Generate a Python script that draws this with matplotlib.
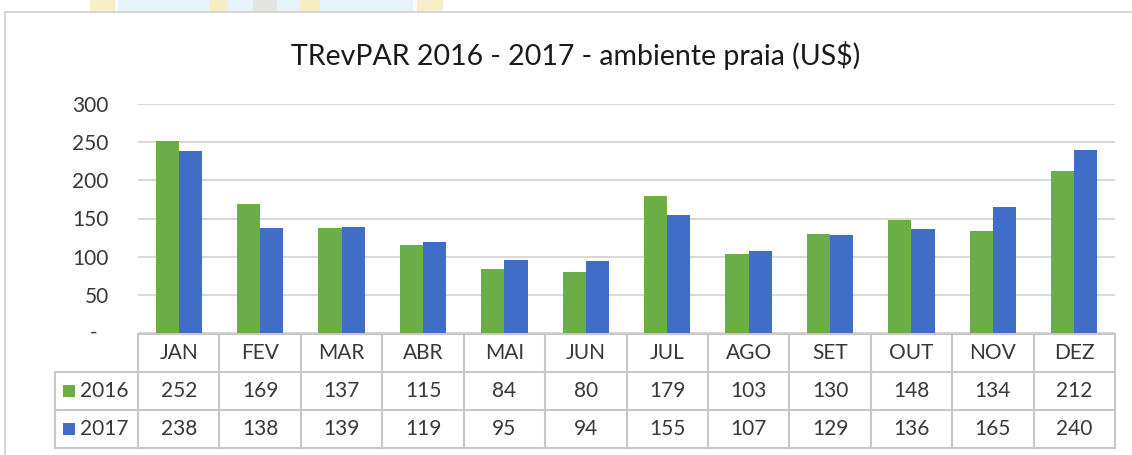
import matplotlib
matplotlib.use("Agg")
import matplotlib.pyplot as plt
from matplotlib.patches import Rectangle
from matplotlib.transforms import blended_transform_factory
import numpy as np

months = ["JAN", "FEV", "MAR", "ABR", "MAI", "JUN", "JUL", "AGO", "SET", "OUT", "NOV", "DEZ"]
series_names = ["2016", "2017"]
v2016 = [252, 169, 137, 115, 84, 80, 179, 103, 130, 148, 134, 212]
v2017 = [238, 138, 139, 119, 95, 94, 155, 107, 129, 136, 165, 240]
yticks = [0, 50, 100, 150, 200, 250, 300]
ytick_labels = ["-", "50", "100", "150", "200", "250", "300"]
title = "TRevPAR 2016 - 2017 - ambiente praia (US$)"

W, H = 1132, 455
FONT = ["Lato", "DejaVu Sans"]
plt.rcParams['font.family'] = FONT
TXT = "#383838"
GREEN = "#6aae45"
BLUE = "#406dc6"
GRID = "#d9d9d9"
TLINE = "#c8c8c8"
FS = 15

fig = plt.figure(figsize=(W / 100, H / 100), dpi=100)
fig.patch.set_facecolor("white")

def fx(px):
    return px / W

def fy(py):
    return 1 - py / H

# watermark strip at top
bg = fig.add_axes([0, 0, 1, 1])
bg.set_xlim(0, W)
bg.set_ylim(H, 0)
bg.axis("off")
bg.add_patch(Rectangle((118, 0), 135, 13, color="#e6f3fb", lw=0))
bg.add_patch(Rectangle((277, 0), 136, 13, color="#e6f3fb", lw=0))
bg.add_patch(Rectangle((253, 0), 24, 13, color="#e4e4e0", lw=0))
bg.add_patch(Rectangle((90, 0), 25, 13, color="#f8efc8", lw=0))
bg.add_patch(Rectangle((417, 0), 26, 13, color="#f8efc8", lw=0))
bg.add_patch(Rectangle((210, 0), 17, 13, color="#f6eec0", lw=0))
bg.add_patch(Rectangle((300, 0), 20, 13, color="#f6eec0", lw=0))
bg.add_patch(Rectangle((5, 12), W, H, facecolor="white", edgecolor="#d0d0d0", lw=1.2))

# bar axes
x0, x1, ytop, ybot = 138, 1115, 104, 333
ax = fig.add_axes([fx(x0), fy(ybot), fx(x1 - x0), (ybot - ytop) / H])
x = np.arange(len(months))
bw = 0.285
ax.bar(x - bw / 2, v2016, bw, color=GREEN, zorder=3)
ax.bar(x + bw / 2, v2017, bw, color=BLUE, zorder=3)
ax.set_xlim(-0.5, len(months) - 0.5)
ax.set_ylim(0, 300)
ax.set_yticks(yticks)
# zero label ("-") is drawn separately, further left, as in Excel accounting format
ax.set_yticklabels([""] + ytick_labels[1:], fontsize=FS, color=TXT)
ax.tick_params(axis="y", length=0, pad=21)
ax.set_xticks([])
ax.yaxis.grid(True, color=GRID, lw=1.5, zorder=0)
for s in ax.spines.values():
    s.set_visible(False)
ax.set_facecolor("none")
trd = blended_transform_factory(bg.transData, ax.transData)
bg.text(94, yticks[0], ytick_labels[0], ha="center", va="center", fontsize=FS,
        color=TXT, transform=trd)

fig.text(fx(576), fy(55), title, ha="center", va="center", fontsize=20.5, color="#1a1a1a")

# data table
tr = blended_transform_factory(ax.transData, bg.transData)
ys = [334, 372, 410, 448]
left_leg = -0.5 - (x0 - 55) / ((x1 - x0) / 12)
kw = dict(color=TLINE, lw=1.5, transform=tr, clip_on=False)
bg.plot([-0.5, 11.5], [ys[0], ys[0]], **kw)
for yy in ys[1:]:
    bg.plot([left_leg, 11.5], [yy, yy], **kw)
for i in range(13):
    bg.plot([i - 0.5, i - 0.5], [ys[0], ys[3]], **kw)
bg.plot([left_leg, left_leg], [ys[1], ys[3]], **kw)

for i, m in enumerate(months):
    bg.text(i, (ys[0] + ys[1]) / 2, m, ha="center", va="center", fontsize=FS, color=TXT, transform=tr)
    bg.text(i, (ys[1] + ys[2]) / 2, str(v2016[i]), ha="center", va="center", fontsize=FS, color=TXT, transform=tr)
    bg.text(i, (ys[2] + ys[3]) / 2, str(v2017[i]), ha="center", va="center", fontsize=FS, color=TXT, transform=tr)

for r, (name, col) in enumerate(zip(series_names, [GREEN, BLUE])):
    yc = (ys[r + 1] + ys[r + 2]) / 2
    bg.add_patch(Rectangle((63, yc - 6), 12, 12, color=col, lw=0))
    bg.text(80, yc, name, ha="left", va="center", fontsize=FS, color=TXT)

fig.savefig("out.png", dpi=100)
